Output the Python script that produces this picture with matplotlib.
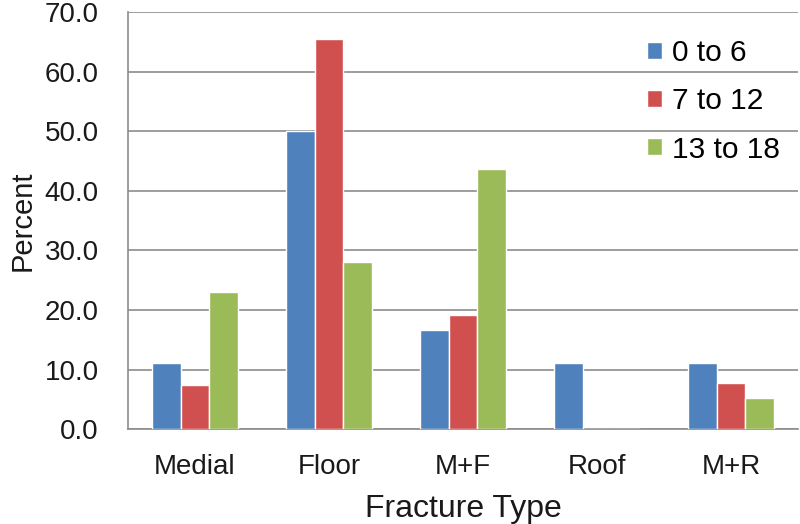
import numpy as np
import matplotlib.pyplot as plt

plt.rcParams['font.family'] = ['Liberation Sans', 'DejaVu Sans']

categories = ['Medial', 'Floor', 'M+F', 'Roof', 'M+R']
groups = ['0 to 6', '7 to 12', '13 to 18']
age_0_6 = [11.1, 50.0, 16.7, 11.1, 11.1]
age_7_12 = [7.4, 65.5, 19.2, 0.0, 7.8]
age_13_18 = [23.1, 28.1, 43.6, 0.0, 5.2]
colors = ['#4F81BD', '#D0504F', '#9BBB59']

fig = plt.figure(figsize=(8, 5.24), dpi=100)
ax = fig.add_axes([0.16, 0.181, 0.8375, 0.796])

x = np.arange(len(categories))
w = 0.215
for i, vals in enumerate([age_0_6, age_7_12, age_13_18]):
    ax.bar(x + (i - 1) * w, vals, w, color=colors[i], edgecolor='white',
           linewidth=1.0, label=groups[i], zorder=3)

ax.set_xlim(-0.5, len(categories) - 0.5)
ax.set_ylim(0, 70)
ax.set_yticks(np.arange(0, 71, 10))
ax.set_yticklabels(['%.1f' % v for v in np.arange(0, 71, 10)])
ax.set_xticks(x)
ax.set_xticklabels(categories)
ax.tick_params(axis='both', length=0, labelsize=20, colors='#1a1a1a')
ax.tick_params(axis='y', pad=21)
ax.tick_params(axis='x', pad=18)
ax.yaxis.grid(True, color='#8c8c8c', linewidth=1.2, zorder=0)
ax.set_axisbelow(True)
for s in ['top', 'right']:
    ax.spines[s].set_visible(False)
for s in ['left', 'bottom']:
    ax.spines[s].set_color('#8c8c8c')
    ax.spines[s].set_linewidth(1.2)

ax.set_xlabel('Fracture Type', fontsize=23, color='#1a1a1a', labelpad=10)
ax.set_ylabel('Percent', fontsize=21, color='#1a1a1a', labelpad=6)

leg = ax.legend(loc='upper right', bbox_to_anchor=(1.013, 1.0), frameon=False,
                fontsize=21.5, handlelength=0.5, handleheight=0.5,
                handletextpad=0.35, labelspacing=0.68)

plt.savefig('out.png', dpi=100)
